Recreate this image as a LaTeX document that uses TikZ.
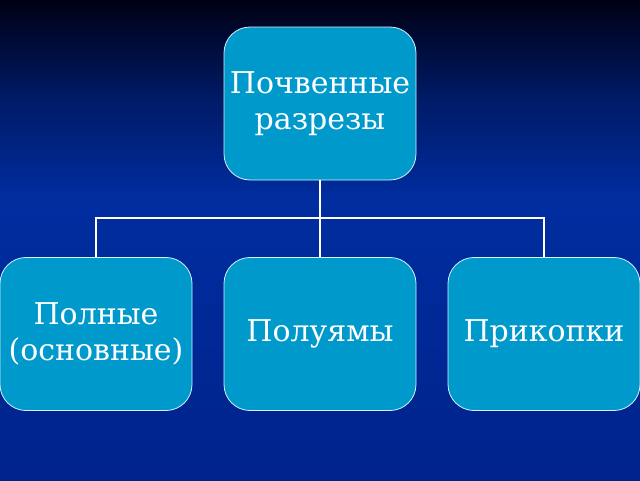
\documentclass[tikz,border=0pt]{standalone}
\usepackage{fontspec}
\setmainfont{DejaVu Serif}
\definecolor{boxc}{RGB}{0,153,204}
\definecolor{bgtop}{RGB}{0,0,20}
\definecolor{bgmid}{RGB}{0,45,160}
\definecolor{bgbot}{RGB}{0,35,140}
\begin{document}
\begin{tikzpicture}[x=1pt,y=-1pt,
  box/.style={draw=white!85!boxc, line width=0.8pt, fill=boxc, rounded corners=26pt,
    minimum width=192pt, minimum height=153pt, inner sep=0pt, align=center,
    text=white, font=\fontsize{30}{36}\selectfont},
  link/.style={draw=white, line width=2pt}]
\shade[top color=bgtop, bottom color=bgmid, middle color=bgmid!60!bgtop] (0,0) rectangle (640,200);
\shade[top color=bgmid, bottom color=bgbot] (0,200) rectangle (640,480);
\useasboundingbox (0,0) rectangle (640,480);
\node[box] (top) at (320,103.5) {Почвенные\\разрезы};
\node[box] (a) at (96,334) {Полные\\(основные)};
\node[box] (b) at (320,334) {Полуямы};
\node[box] (c) at (544,334) {Прикопки};
\coordinate (j) at (320,218);
\draw[link] (top.south) -- (j);
\draw[link] (a.north) |- (j) -| (c.north);
\draw[link] (j) -- (b.north);
\end{tikzpicture}
\end{document}
